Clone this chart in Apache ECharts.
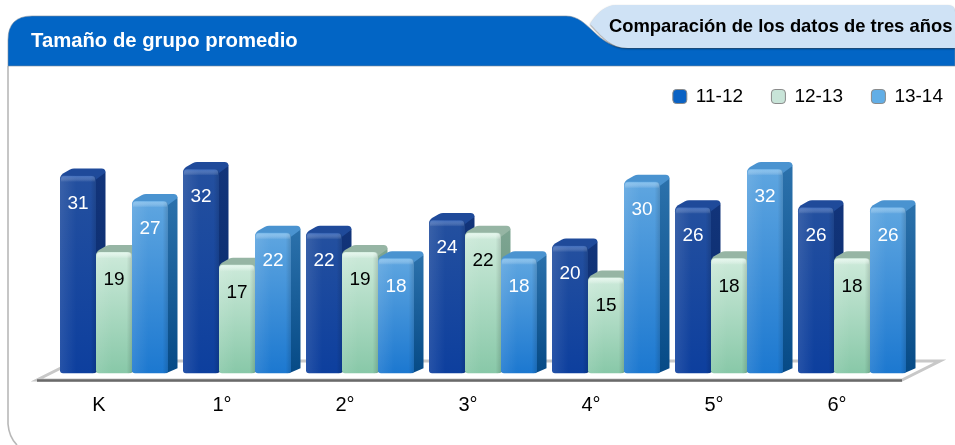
<!DOCTYPE html>
<html><head><meta charset="utf-8">
<style>html,body{margin:0;padding:0;background:#fff}#c{width:955px;height:445px}</style>
<script src="https://cdn.jsdelivr.net/npm/echarts@6/dist/echarts.min.js"></script>
</head><body><div id="c"></div>
<script>
const categories = ['K','1°','2°','3°','4°','5°','6°'];
const seriesNames = ['11-12','12-13','13-14'];
const values1112 = [31,32,22,24,20,26,26];
const values1213 = [19,17,19,22,15,18,18];
const values1314 = [27,22,18,18,30,32,26];
const title = 'Tamaño de grupo promedio';
const tabTitle = 'Comparación de los datos de tres años';
const FONT = '"Liberation Sans", Helvetica, Arial, sans-serif';

const palettes = [
  {legend:'#0a62c4', top:'#24509f', bottom:'#0d3f9e', cap:'rgba(90,135,215,0.55)', capTop:'#1f4a9a', side:'#12347a', sideB:'#0a2c6c', text:'#fff'},
  {legend:'#c8e4d8', top:'#cdeada', bottom:'#88c8a8', cap:'rgba(235,250,242,0.8)', capTop:'#96b5a4', side:'#7ea592', sideB:'#5f8f78', text:'#000'},
  {legend:'#62aee6', top:'#5fa6e0', bottom:'#1c78d0', cap:'rgba(150,205,245,0.65)', capTop:'#4a93d0', side:'#2c72ac', sideB:'#064a86', text:'#fff'}
];
const BAR_RATIO = 36/123, GROUP_SHIFT = -39/123, DX = 9.5, DY = 7;

function barRenderer(si){
  const p = palettes[si];
  return function(params, api){
    const cat = api.value(0), val = api.value(1);
    const top = api.coord([cat,val]), base = api.coord([cat,0]);
    const band = api.size([1,0])[0], w = band*BAR_RATIO;
    const x0 = top[0] + band*GROUP_SHIFT + si*w, x1 = x0 + w;
    const yt = top[1], yb = base[1];
    const R = x1+DX, B = yt-DY;
    const sidePath = `M${x1-3},${yt} L${R-4},${B+1} Q${R},${B+1} ${R},${B+5} L${R},${yb-DY+2} L${x1-2},${yb} Z`;
    const topPath = `M${x0},${yt+4} Q${x0},${yt} ${x0+3},${yt-2} L${x0+10},${B+1} Q${x0+12},${B} ${x0+14},${B} L${R-4},${B} Q${R},${B} ${R},${B+4} L${x1},${yt+4} Z`;
    return {type:'group', children:[
      {type:'path', shape:{pathData:sidePath},
        style:{fill:{type:'linear',x:0,y:0,x2:0,y2:1,colorStops:[{offset:0,color:p.side},{offset:1,color:p.sideB}]}}},
      {type:'path', shape:{pathData:topPath}, style:{fill:p.capTop}},
      {type:'rect', shape:{x:x0,y:yt,width:w,height:yb-yt,r:[4,4,3,3]},
        style:{fill:{type:'linear',x:0,y:0,x2:0,y2:1,colorStops:[{offset:0,color:p.top},{offset:1,color:p.bottom}]}}},
      {type:'rect', shape:{x:x0,y:yt,width:w,height:yb-yt,r:[4,4,3,3]},
        style:{fill:{type:'linear',x:0,y:0,x2:1,y2:0,colorStops:[
          {offset:0,color:'rgba(255,255,255,0.10)'},{offset:0.45,color:'rgba(255,255,255,0)'},
          {offset:0.85,color:'rgba(0,0,0,0)'},{offset:1,color:'rgba(0,0,0,0.14)'}]}}},
      {type:'rect', shape:{x:x0+1,y:yt+0.5,width:w-2,height:6,r:[3,3,0,0]},
        style:{fill:{type:'linear',x:0,y:0,x2:0,y2:1,colorStops:[{offset:0,color:p.cap},{offset:1,color:'rgba(255,255,255,0)'}]}}},
      {type:'text', style:{text:String(val), x:(x0+x1)/2, y:yt+28, align:'center', verticalAlign:'middle',
        fill:p.text, font:'19px '+FONT}}
    ]};
  };
}

function frameRenderer(){
  return {type:'group', children:[
    {type:'path', shape:{pathData:'M8,66 L8,424 Q9,437 17,445'}, style:{fill:'none', stroke:'#b8b8b8', lineWidth:1.6}},
    {type:'path', shape:{pathData:'M8,66 L8,40 Q8,16 32,16 L566,16 C590,16 596,48 628,48 L955,48 L955,66 Z'},
      style:{fill:'#0265c5', stroke:'#7c8c9c', lineWidth:0.6}},
    {type:'path', shape:{pathData:'M948,5 L616,5 Q602,5 590,24 C602,36 610,48 628,48 L955,48 L955,12 Q955,5 948,5 Z'},
      style:{fill:'#cfe2f5', shadowColor:'rgba(0,0,0,0.45)', shadowBlur:2, shadowOffsetY:1}},
    {type:'text', style:{text:title, x:31, y:41, verticalAlign:'middle', fill:'#fff', font:'bold 20.3px '+FONT}},
    {type:'text', style:{text:tabTitle, x:609, y:27, verticalAlign:'middle', fill:'#000', font:'bold 18.4px '+FONT}},
    {type:'polygon', shape:{points:[[37,380],[902,380],[940,361],[75,361]]},
      style:{fill:'#fff', stroke:'#c8c8c8', lineWidth:3}},
    {type:'line', shape:{x1:37,y1:380.5,x2:902,y2:380.5}, style:{stroke:'#6a6a6a', lineWidth:2.5}}
  ]};
}

const allValues = [values1112, values1213, values1314];
const chart = echarts.init(document.getElementById('c'), null, {renderer:'canvas'});
chart.setOption({
  animation:false,
  backgroundColor:'#fff',
  grid:{left:37.5, width:861, top:118, height:255.2},
  xAxis:{type:'category', data:categories, axisLine:{show:false}, axisTick:{show:false},
    axisLabel:{color:'#000', fontSize:20, fontFamily:FONT, margin:22}},
  yAxis:{type:'value', min:0, max:40, show:false, splitLine:{show:false}},
  legend:{right:7, top:82, itemWidth:14, itemHeight:14, itemGap:27.9, icon:'roundRect',
    textStyle:{fontSize:19, fontFamily:FONT, color:'#000', padding:[0,0,0,4]},
    data:seriesNames.map((n,i)=>({name:n, itemStyle:{color:palettes[i].legend, borderColor:'#8a8a8a', borderWidth:1}}))},
  series: [{name:'frame', type:'custom', coordinateSystem:'none', silent:true, clip:false, z:1, data:[[0]], renderItem:frameRenderer}]
   .concat(seriesNames.map((n,i)=>({
    name:n, type:'custom', coordinateSystem:'cartesian2d', clip:false, z:2,
    itemStyle:{color:palettes[i].legend},
    encode:{x:0,y:1},
    data:categories.map((c,k)=>[k, allValues[i][k]]),
    renderItem:barRenderer(i)
  })))
});
</script></body></html>
